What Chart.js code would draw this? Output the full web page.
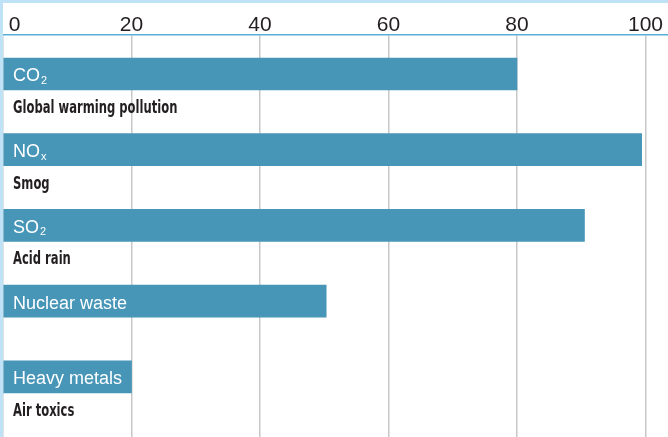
<!DOCTYPE html>
<html>
<head>
<meta charset="utf-8">
<script src="https://cdn.jsdelivr.net/npm/chart.js@4"></script>
<style>
  html, body { margin: 0; padding: 0; background: #fff; }
  body { width: 665px; height: 434px; border-top: 3px solid #bfe2f6; border-left: 3px solid #bfe2f6; overflow: hidden; }
  #wrap { width: 665px; height: 434px; position: relative; }
</style>
</head>
<body>
<div id="wrap"><canvas id="chart"></canvas></div>
<script>
// bar names (with subscripts kept apart), notes under the bars, values
var names = ["CO", "NO", "SO", "Nuclear waste", "Heavy metals"];
var subs = ["2", "x", "2", "", ""];
var notes = ["Global warming pollution", "Smog", "Acid rain", "", "Air toxics"];
var values = [80, 99.4, 90.5, 50.3, 20];
var tickValues = [0, 20, 40, 60, 80, 100];

var barText = {
  id: "barText",
  afterDatasetsDraw: function (chart) {
    var c = chart.ctx;
    var xs = chart.scales.x, ys = chart.scales.y;
    var left = xs.getPixelForValue(0) + 10;
    c.save();
    c.textAlign = "left";
    c.textBaseline = "alphabetic";
    names.forEach(function (n, i) {
      var cy = ys.getPixelForValue(i);
      c.fillStyle = "#ffffff";
      c.font = "18px 'Liberation Sans', Arial, sans-serif";
      c.fillText(n, left, cy + 7.5);
      if (subs[i]) {
        var w = c.measureText(n).width;
        c.font = "11px 'Liberation Sans', Arial, sans-serif";
        c.fillText(subs[i], left + w + 1, cy + 10);
      }
      if (notes[i]) {
        c.fillStyle = "#231f20";
        c.font = "bold 18px 'Liberation Sans Narrow', 'DejaVu Sans Condensed', sans-serif";
        c.save();
        c.translate(left, cy + 39);
        c.scale(0.715, 1);
        c.fillText(notes[i], 0, 0);
        c.restore();
      }
    });
    c.restore();
  }
};

var chart = new Chart(document.getElementById("chart"), {
  type: "bar",
  data: {
    datasets: [{
      data: values.map(function (v, i) { return { x: v, y: i }; }),
      backgroundColor: "#4796b8",
      borderWidth: 0,
      barThickness: 32
    }]
  },
  options: {
    indexAxis: "y",
    responsive: true,
    maintainAspectRatio: false,
    animation: false,
    layout: { padding: { top: 12, left: 0, right: 0, bottom: 0 } },
    plugins: { legend: { display: false }, tooltip: { enabled: false } },
    scales: {
      x: {
        type: "linear",
        position: "top",
        min: 0,
        max: 103.5,
        afterBuildTicks: function (scale) {
          scale.ticks = tickValues.map(function (v) { return { value: v }; });
        },
        afterFit: function (scale) {
          scale.paddingLeft = 0;
        },
        grid: { color: "#c8c8c8", lineWidth: 1.5, drawTicks: false },
        border: { color: "#5ab0d8", width: 1.5 },
        ticks: {
          padding: -2.5,
          color: "#231f20",
          font: { size: 21, lineHeight: 1.19, family: "'Liberation Sans', Arial, sans-serif" },
          callback: function (v) { return v === 0 ? "    0" : v; }
        }
      },
      y: {
        type: "linear",
        reverse: true,
        offset: false,
        min: -0.515,
        max: 4.795,
        display: false
      }
    }
  },
  plugins: [barText]
});
</script>
</body>
</html>
